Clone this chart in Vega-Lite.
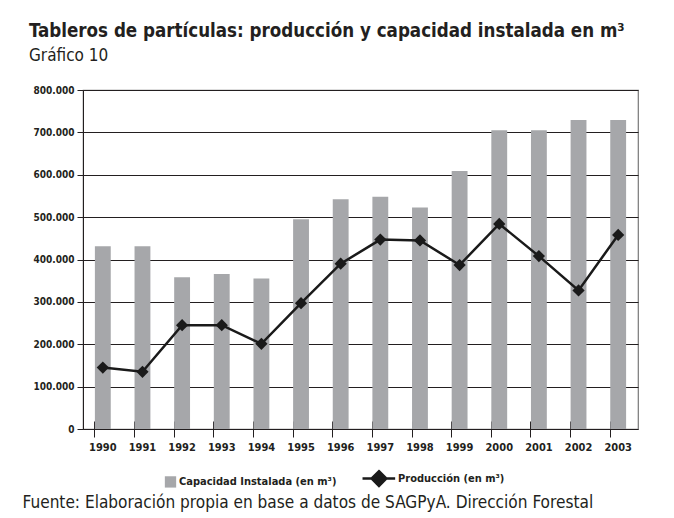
{
  "$schema": "https://vega.github.io/schema/vega-lite/v6.json",
  "width": 555,
  "height": 339,
  "autosize": "none",
  "padding": {"left": 83, "top": 90, "right": 36, "bottom": 89},
  "background": "white",
  "config": {
    "locale": {"number": {"decimal": ",", "thousands": ".", "grouping": [3], "currency": ["$", ""]}},
    "view": {"stroke": "#777777", "strokeWidth": 1.2},
    "font": "'DejaVu Sans Condensed', 'Liberation Sans', sans-serif"
  },
  "title": {
    "text": "Tableros de partículas: producción y capacidad instalada en m³",
    "subtitle": "Gráfico 10",
    "anchor": "start",
    "frame": "group",
    "dx": -54,
    "offset": 21,
    "font": "'DejaVu Sans Condensed', 'Liberation Sans', sans-serif",
    "fontSize": 18.6,
    "fontWeight": "bold",
    "color": "#231f20",
    "subtitleFont": "'DejaVu Sans Condensed', 'Liberation Sans', sans-serif",
    "subtitleFontSize": 17,
    "subtitleColor": "#231f20",
    "subtitlePadding": 7
  },
  "data": {
    "values": [
      {"anio": "1990", "capacidad": 431000, "produccion": 145000},
      {"anio": "1991", "capacidad": 431000, "produccion": 135000},
      {"anio": "1992", "capacidad": 358000, "produccion": 245000},
      {"anio": "1993", "capacidad": 366000, "produccion": 245000},
      {"anio": "1994", "capacidad": 355000, "produccion": 201000},
      {"anio": "1995", "capacidad": 495000, "produccion": 297000},
      {"anio": "1996", "capacidad": 542000, "produccion": 390000},
      {"anio": "1997", "capacidad": 548000, "produccion": 447000},
      {"anio": "1998", "capacidad": 523000, "produccion": 445000},
      {"anio": "1999", "capacidad": 609000, "produccion": 387000},
      {"anio": "2000", "capacidad": 705000, "produccion": 484000},
      {"anio": "2001", "capacidad": 705000, "produccion": 408000},
      {"anio": "2002", "capacidad": 729000, "produccion": 327000},
      {"anio": "2003", "capacidad": 729000, "produccion": 458000}
    ]
  },
  "encoding": {
    "x": {
      "field": "anio",
      "type": "nominal",
      "scale": {"paddingInner": 0.6, "paddingOuter": 0.3},
      "axis": {
        "title": "Fuente: Elaboración propia en base a datos de SAGPyA. Dirección Forestal",
        "titleFont": "'DejaVu Sans Condensed', 'Liberation Sans', sans-serif",
        "titleFontSize": 17.1,
        "titleFontWeight": "normal",
        "titleColor": "#231f20",
        "titleAnchor": "start",
        "titleAlign": "left",
        "titleBaseline": "alphabetic",
        "titleX": -61,
        "titleY": 86,
        "labelAngle": 0,
        "labelFontSize": 11,
        "labelFontWeight": "bold",
        "labelColor": "#231f20",
        "labelPadding": 4,
        "bandPosition": 0,
        "offset": -8,
        "tickSize": 16,
        "tickColor": "#231f20",
        "tickWidth": 1,
        "domain": false,
        "grid": false
      }
    }
  },
  "layer": [
    {
      "mark": {"type": "bar", "color": "#a6a7aa"},
      "encoding": {
        "y": {
          "field": "capacidad",
          "type": "quantitative",
          "scale": {"domain": [0, 800000], "nice": false},
          "axis": {
            "title": null,
            "values": [0, 100000, 200000, 300000, 400000, 500000, 600000, 700000, 800000],
            "format": ",d",
            "labelFontSize": 10,
            "labelFontWeight": "bold",
            "labelColor": "#231f20",
            "labelPadding": 3,
            "tickSize": 6,
            "tickColor": "#231f20",
            "domainColor": "#231f20",
            "gridColor": "#231f20",
            "gridWidth": 1,
            "gridOpacity": 1
          }
        },
        "color": {
          "datum": "Capacidad Instalada (en m³)",
          "scale": {"domain": ["Capacidad Instalada (en m³)", "Producción (en m³)"], "range": ["#a6a7aa", "#1a1a1a"]},
          "legend": {
            "title": null,
            "orient": "none",
            "direction": "horizontal",
            "legendX": 82,
            "legendY": 383,
            "padding": 0,
            "symbolSize": 128,
            "labelFontSize": 11,
            "labelFontWeight": "bold",
            "labelColor": "#231f20",
            "labelLimit": 400,
            "labelOffset": 3,
            "columnPadding": 20,
            "encode": {
              "symbols": {
                "update": {
                  "shape": {"signal": "datum.value === 'Producción (en m³)' ? 'M-4.77,0H1M-1.86,-1.3L-0.56,0L-1.86,1.3L-3.16,0Z' : 'square'"},
                  "fill": {"signal": "datum.value === 'Producción (en m³)' ? '#1a1a1a' : '#a6a7aa'"},
                  "stroke": {"signal": "datum.value === 'Producción (en m³)' ? '#1a1a1a' : '#a6a7aa'"},
                  "strokeWidth": {"signal": "datum.value === 'Producción (en m³)' ? 2.5 : 0"},
                  "opacity": {"value": 1}
                }
              }
            }
          }
        }
      }
    },
    {
      "mark": {"type": "line", "strokeWidth": 2.5, "point": {"filled": true, "shape": "diamond", "size": 150, "opacity": 1}},
      "encoding": {
        "x": {"field": "anio", "type": "nominal", "bandPosition": 0.5},
        "y": {"field": "produccion", "type": "quantitative"},
        "color": {"datum": "Producción (en m³)"}
      }
    }
  ]
}
